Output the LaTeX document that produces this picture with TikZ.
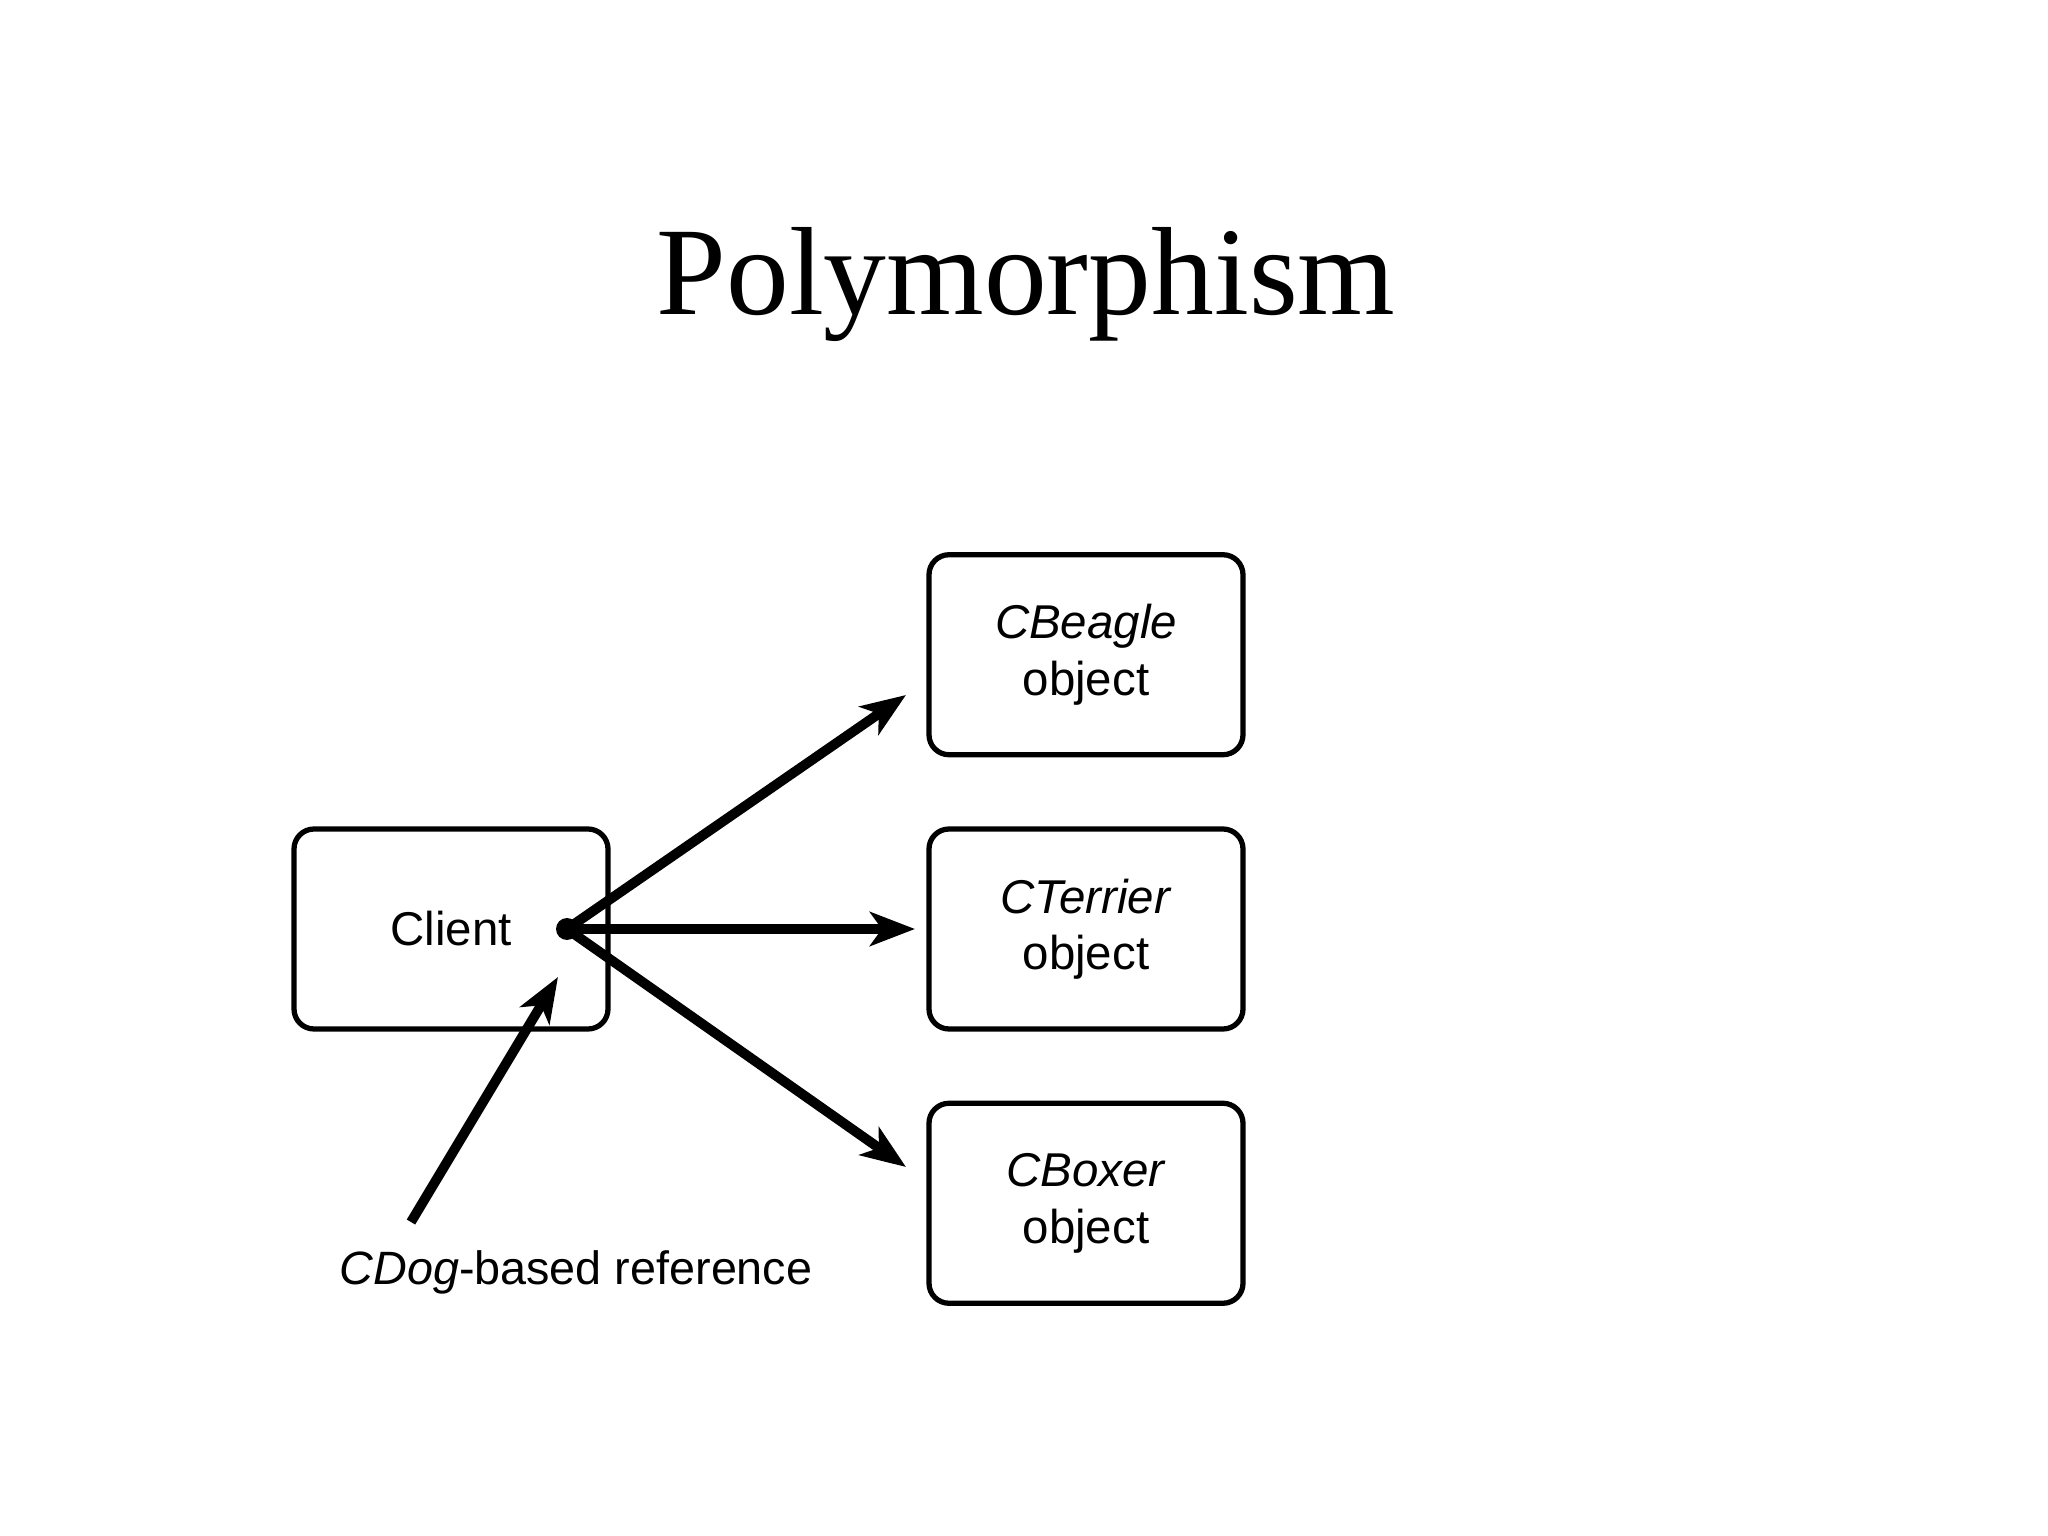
\documentclass[tikz,border=0pt]{standalone}
\usepackage{fontspec}
\setmainfont{Liberation Serif}
\setsansfont{Liberation Sans}
\usetikzlibrary{arrows.meta,positioning}

\begin{document}
\begin{tikzpicture}
    % Define node styles
    \tikzstyle{obj} = [rectangle, draw, rounded corners=0.2cm, line width=1.5pt, minimum width=3.14cm, minimum height=2.0cm, align=center, font=\sffamily\fontsize{13.5}{16}\selectfont]
    \tikzstyle{lbl} = [font=\sffamily\fontsize{13.3}{16}\selectfont]
    \tikzstyle{arrow} = [line width=2.8pt, -{Stealth[length=0.45cm,width=0.34cm,inset=0.12cm]}]

    \useasboundingbox (0,0) rectangle (20.48,-15.36);

    % Title
    \node[anchor=base, font=\fontsize{35.7}{40}\selectfont] (title) at (10.26,-3.15) {Polymorphism};

    % Client
    \node[obj] (client) at (4.51,-9.29) {Client};
    \node[circle, fill, inner sep=0pt, minimum size=0.22cm] (dot) at (5.67,-9.29) {};

    % Objects
    \node[obj] (terrier) at (10.86,-9.29) {\textit{CTerrier}\\object};
    \node[obj, above=0.69cm of terrier] (beagle) {\textit{CBeagle}\\object};
    \node[obj, below=0.69cm of terrier] (boxer) {\textit{CBoxer}\\object};

    % Reference label
    \node[lbl] (ref) at (5.76,-12.72) {\textit{CDog}-based reference};

    % Arrow ends
    \coordinate (beagleIn) at (9.06,-6.95);
    \coordinate (terrierIn) at (9.15,-9.29);
    \coordinate (boxerIn) at (9.06,-11.67);
    \coordinate (refOut) at (4.11,-12.22);
    \coordinate (refIn) at (5.58,-9.77);

    % Arrows
    \draw[arrow] (dot.center) -- (beagleIn);
    \draw[arrow] (dot.center) -- (terrierIn);
    \draw[arrow] (dot.center) -- (boxerIn);
    \draw[arrow] (refOut) -- (refIn);

\end{tikzpicture}
\end{document}
